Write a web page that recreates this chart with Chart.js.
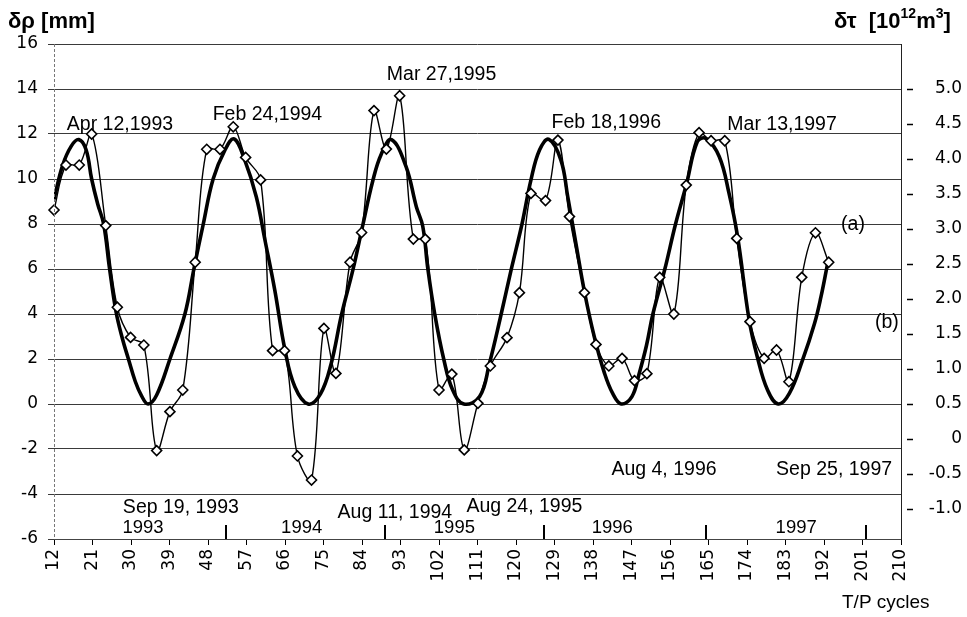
<!DOCTYPE html>
<html>
<head>
<meta charset="utf-8">
<script src="https://cdn.jsdelivr.net/npm/chart.js@4.4.0/dist/chart.umd.min.js"></script>
<style>
  html, body { margin: 0; padding: 0; background: #fff; }
</style>
</head>
<body>
<canvas id="chart" width="967" height="617"></canvas>
<script>
// observed series (a), diamonds
const obsCycles = [12, 14.8, 17.9, 20.8, 24.1, 26.8, 29.9, 33, 36, 39.1, 42.1, 45, 47.7, 50.8, 53.9, 56.8, 60.3, 63.1, 65.9, 68.9,
  72.2, 75.1, 77.9, 81.2, 83.9, 86.8, 89.7, 92.8, 96, 98.8, 102, 105, 107.9, 111.1, 114, 117.9, 120.8, 123.5, 126.9, 129.8,
  132.5, 136, 138.7, 141.7, 144.8, 147.7, 150.6, 153.6, 156.9, 159.8, 162.8, 165.6, 168.8, 171.6, 174.7, 178, 180.9, 183.8, 186.8, 190, 193.1];
const obsValues = [8.62, 10.62, 10.62, 12.0, 7.93, 4.3, 2.96, 2.62, -2.07, -0.34, 0.62, 6.3, 11.32, 11.32, 12.32, 10.96, 9.96, 2.37, 2.37, -2.31,
  -3.38, 3.36, 1.36, 6.3, 7.62, 13.04, 11.33, 13.7, 7.33, 7.33, 0.62, 1.33, -2.04, 0.03, 1.69, 2.95, 4.95, 9.36, 9.04, 11.73,
  8.33, 4.95, 2.65, 1.69, 2.03, 1.04, 1.35, 5.63, 4.0, 9.73, 12.06, 11.7, 11.7, 7.36, 3.66, 2.03, 2.4, 0.99, 5.63, 7.61, 6.3];

// fitted curve (b), thick line
const fitCycles = [12, 14, 16, 17.8, 19.5, 20.8, 22.2, 23.6, 25, 26.5, 28, 29.4, 31, 32.5, 34, 36, 39.1, 42.6, 44.7, 46.9,
  49.2, 52, 54.1, 56.6, 59.3, 61.3, 63.6, 66, 68.3, 71.4, 74.3, 76.8, 79.2, 81.9, 84.2, 86.5, 88.5, 90.9, 94.3, 96.7,
  98.2, 99.4, 101, 103.1, 105.2, 107.8, 111.5, 113.8, 116.3, 118.9, 121.4, 123.5, 125.5, 127.7, 130.5, 132.1, 134, 136, 138.3, 140.7,
  142.6, 144.6, 147.1, 148.8, 150.5, 152, 154.8, 157.3, 159.8, 162.4, 164.4, 167.5, 169.8, 171.8, 174.5, 176.4, 178.8, 181.3, 183.9, 187,
  189.8, 191.3, 192.8];
const fitValues = [9.1, 10.6, 11.45, 11.75, 11.3, 10.0, 8.9, 8.0, 6.0, 4.1, 2.9, 2.0, 1.0, 0.35, 0, 0.4, 2.0, 4.0, 6.0, 8.0,
  10.0, 11.3, 11.78, 10.84, 9.2, 7.3, 5.07, 2.4, 0.77, 0, 0.45, 1.8, 3.96, 5.98, 7.96, 9.9, 11.1, 11.75, 10.55, 8.77,
  7.9, 6.0, 4.0, 2.0, 0.62, 0, 0.33, 1.81, 3.8, 5.99, 8.0, 9.96, 11.29, 11.76, 10.84, 9.21, 7.14, 4.99, 2.99, 1.36,
  0.47, 0, 0.33, 1.36, 2.6, 4.0, 6.0, 8.0, 9.73, 11.66, 11.8, 11.0, 9.36, 7.44, 3.73, 2.1, 0.62, 0, 0.47, 1.96,
  3.59, 4.77, 6.2];

const rightTicks = [5.0, 4.5, 4.0, 3.5, 3.0, 2.5, 2.0, 1.5, 1.0, 0.5, 0, -0.5, -1.0];
const rightTickLabels = ['5.0', '4.5', '4.0', '3.5', '3.0', '2.5', '2.0', '1.5', '1.0', '0.5', '0', '-0.5', '-1.0'];

const peakDates = ['Apr 12,1993', 'Feb 24,1994', 'Mar 27,1995', 'Feb 18,1996', 'Mar 13,1997'];
const troughDates = ['Sep 19, 1993', 'Aug 11, 1994', 'Aug 24, 1995', 'Aug 4, 1996', 'Sep 25, 1997'];
const yearLabels = ['1993', '1994', '1995', '1996', '1997'];
const yearEnds = [52.2, 89.3, 126.5, 164.3, 201.9];
const seriesNames = ['(a)', '(b)'];

// right axis: 0.5 on the right sits on 0 on the left, 4.5 units span 14 mm
const rightPerLeft = 4.5 / 14;

const tickFont = { family: '"DejaVu Sans", sans-serif', size: 17 };
const textFont = '"Liberation Sans", Arial, sans-serif';

const overlay = {
  id: 'overlay',
  afterDraw(chart) {
    const { ctx, chartArea, scales } = chart;
    const x = scales.x, y = scales.y, y2 = scales.y2;
    ctx.save();
    ctx.fillStyle = '#000';
    ctx.strokeStyle = '#000';

    // dotted left axis line
    ctx.strokeStyle = '#777';
    ctx.lineWidth = 1;
    ctx.setLineDash([3, 2]);
    ctx.beginPath();
    ctx.moveTo(chartArea.left + 0.5, chartArea.top);
    ctx.lineTo(chartArea.left + 0.5, chartArea.bottom);
    ctx.stroke();
    ctx.setLineDash([]);
    ctx.strokeStyle = '#000';

    // little dashes in front of the right tick labels
    ctx.lineWidth = 1.5;
    rightTicks.forEach(v => {
      const py = Math.round(y2.getPixelForValue(v)) + 0.5;
      ctx.beginPath();
      ctx.moveTo(chartArea.right + 6, py);
      ctx.lineTo(chartArea.right + 12, py);
      ctx.stroke();
    });

    // year separators along the bottom
    ctx.lineWidth = 2;
    yearEnds.forEach(c => {
      const px = Math.round(x.getPixelForValue(c));
      ctx.beginPath();
      ctx.moveTo(px, y.getPixelForValue(-6));
      ctx.lineTo(px, y.getPixelForValue(-5.38));
      ctx.stroke();
    });

    ctx.textBaseline = 'middle';
    ctx.textAlign = 'center';
    ctx.font = '18.5px ' + textFont;
    const yearPos = [32.8, 69.9, 105.6, 142.5, 185.5];
    yearLabels.forEach((t, i) => {
      ctx.fillText(t, x.getPixelForValue(yearPos[i]), y.getPixelForValue(-5.51));
    });

    ctx.textAlign = 'left';
    ctx.font = '19.5px ' + textFont;
    const peakPos = [[15.0, 12.4], [49.1, 12.84], [89.8, 14.62], [128.3, 12.49], [169.4, 12.4]];
    peakDates.forEach((t, i) => {
      ctx.fillText(t, x.getPixelForValue(peakPos[i][0]), y.getPixelForValue(peakPos[i][1]));
    });
    const troughPos = [[28.1, -4.62], [78.3, -4.84], [108.4, -4.58], [142.3, -2.93], [180.8, -2.93]];
    troughDates.forEach((t, i) => {
      ctx.fillText(t, x.getPixelForValue(troughPos[i][0]), y.getPixelForValue(troughPos[i][1]));
    });
    const namePos = [[196.0, 7.96], [203.9, 3.6]];
    seriesNames.forEach((t, i) => {
      ctx.fillText(t, x.getPixelForValue(namePos[i][0]), y.getPixelForValue(namePos[i][1]));
    });

    // axis titles
    ctx.textBaseline = 'alphabetic';
    ctx.font = 'bold 22px ' + textFont;
    ctx.fillText('δρ [mm]', 8, 28);

    let px = 834;
    const part = (t, f, base) => {
      ctx.font = f;
      ctx.fillText(t, px, base);
      px += ctx.measureText(t).width;
    };
    part('δτ  [10', 'bold 22px ' + textFont, 28);
    part('12', 'bold 14px ' + textFont, 18);
    part('m', 'bold 22px ' + textFont, 28);
    part('3', 'bold 14px ' + textFont, 18);
    part(']', 'bold 22px ' + textFont, 28);

    ctx.font = '19px ' + textFont;
    ctx.fillText('T/P cycles', 842, 608);
    ctx.restore();
  }
};

const ctx = document.getElementById('chart').getContext('2d');

new Chart(ctx, {
  type: 'line',
  data: {
    datasets: [{
      label: '(a)',
      data: obsCycles.map((c, i) => ({ x: c, y: obsValues[i] })),
      borderColor: '#000',
      borderWidth: 1.4,
      tension: 0.35,
      pointStyle: 'rectRot',
      pointRadius: 5,
      pointBorderWidth: 1.6,
      pointBorderColor: '#000',
      pointBackgroundColor: '#fff',
      clip: false
    }, {
      label: '(b)',
      data: fitCycles.map((c, i) => ({ x: c, y: fitValues[i] })),
      borderColor: '#000',
      borderWidth: 3.6,
      tension: 0.4,
      pointRadius: 0
    }]
  },
  options: {
    responsive: false,
    animation: false,
    devicePixelRatio: 1,
    layout: { padding: { top: 44, right: 5, bottom: 0, left: 0 } },
    plugins: {
      legend: { display: false },
      tooltip: { enabled: false }
    },
    scales: {
      x: {
        type: 'linear',
        min: 12,
        max: 210,
        ticks: {
          stepSize: 9,
          minRotation: 90,
          maxRotation: 90,
          autoSkip: false,
          padding: 4,
          color: '#000',
          font: tickFont
        },
        grid: { drawOnChartArea: false, tickLength: 6, color: '#000' },
        border: { color: '#444' },
        afterFit: s => { s.height = 78; }
      },
      y: {
        position: 'left',
        min: -6,
        max: 16,
        ticks: { stepSize: 2, padding: 10, color: '#000', font: tickFont },
        grid: { color: '#3a3a3a', tickLength: 6 },
        border: { display: false },
        afterFit: s => { s.width = 54; }
      },
      y2: {
        position: 'right',
        min: 0.5 - 6 * rightPerLeft,
        max: 0.5 + 16 * rightPerLeft,
        afterBuildTicks: s => { s.ticks = rightTicks.map(v => ({ value: v })); },
        ticks: {
          crossAlign: 'far',
          padding: 27,
          color: '#000',
          font: tickFont,
          callback: v => rightTickLabels[rightTicks.indexOf(v)]
        },
        grid: { display: false, drawTicks: false },
        border: { color: '#222' },
        afterFit: s => { s.width = 61; }
      }
    }
  },
  plugins: [overlay]
});
</script>
</body>
</html>
